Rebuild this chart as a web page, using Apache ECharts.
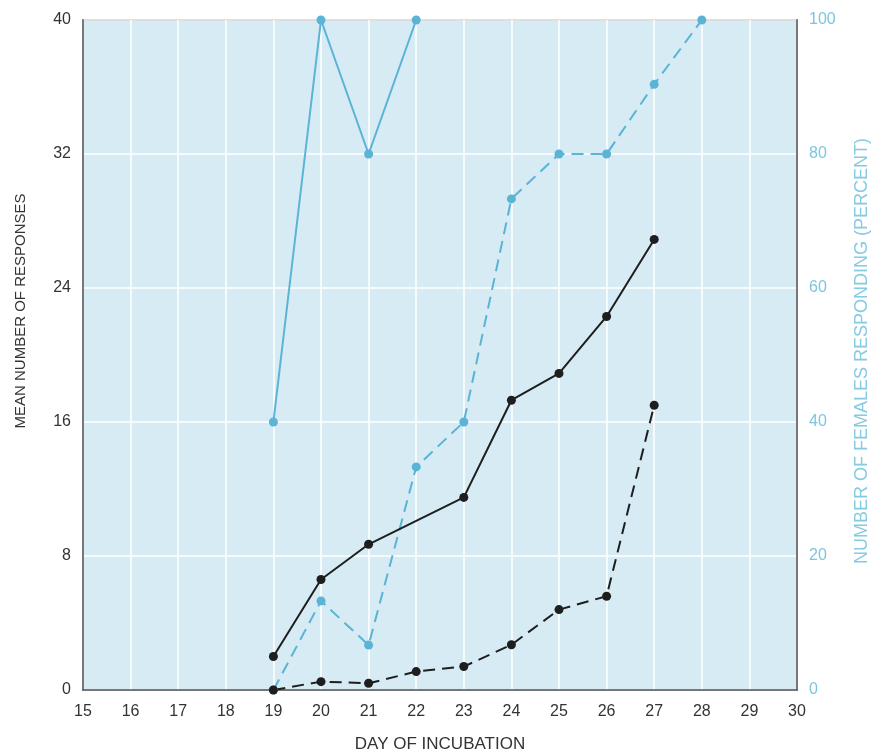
<!DOCTYPE html>
<html>
<head>
<meta charset="utf-8">
<script src="https://cdn.jsdelivr.net/npm/echarts@6/dist/echarts.min.js"></script>
<style>
  html, body { margin: 0; padding: 0; background: #fff; }
  #chart { width: 881px; height: 754px; }
</style>
</head>
<body>
<div id="chart"></div>
<script>
// days of incubation
const days = [19, 20, 21, 22, 23, 24, 25, 26, 27, 28];
// mean number of responses (left axis)
const meanSolid = [2.0, 6.6, 8.7, null, 11.5, 17.3, 18.9, 22.3, 26.9, null];
const meanDashed = [0, 0.5, 0.4, 1.1, 1.4, 2.7, 4.8, 5.6, 17.0, null];
// percent of females responding (right axis)
const pctSolid = [40, 100, 80, 100, null, null, null, null, null, null];
const pctDashed = [0, 13.3, 6.7, 33.3, 40, 73.3, 80, 80, 90.4, 100];

const black = '#1e1e1e';
const blue = '#5bb3d5';
const font = 'Liberation Sans, Arial, sans-serif';

function pairs(vals) {
  let out = [];
  for (let i = 0; i < days.length; i++) {
    if (vals[i] !== null) out.push([days[i], vals[i]]);
  }
  return out;
}

var myChart = echarts.init(document.getElementById('chart'));
myChart.setOption({
  animation: false,
  grid: {
    left: 83, right: 84, top: 20, bottom: 64,
    outerBoundsMode: 'none',
    containLabel: false,
    show: true,
    backgroundColor: '#d6ebf4',
    borderColor: '#555',
    borderWidth: 1.5
  },
  xAxis: {
    type: 'value',
    min: 15, max: 30, interval: 1,
    name: 'DAY OF INCUBATION',
    nameLocation: 'middle',
    nameGap: 46,
    nameTextStyle: { color: '#333', fontSize: 17, fontFamily: font },
    axisLine: { show: true, lineStyle: { color: '#555', width: 1.5 } },
    axisTick: { show: false },
    axisLabel: { color: '#333', fontSize: 16, fontFamily: font, margin: 14 },
    splitLine: { show: true, lineStyle: { color: '#ffffff', width: 1.5 } }
  },
  yAxis: [
    {
      type: 'value',
      min: 0, max: 40, interval: 8,
      name: 'MEAN NUMBER OF RESPONSES',
      nameLocation: 'middle',
      nameRotate: 90,
      nameGap: 55,
      nameTextStyle: { color: '#333', fontSize: 15, fontFamily: font, padding: [0, 0, 0, 88] },
      axisLine: { show: true, lineStyle: { color: '#555', width: 1.5 } },
      axisTick: { show: false },
      axisLabel: { color: '#333', fontSize: 16, fontFamily: font, margin: 12 },
      splitLine: { show: true, lineStyle: { color: '#ffffff', width: 1.5 } }
    },
    {
      type: 'value',
      min: 0, max: 100, interval: 20,
      position: 'right',
      name: 'NUMBER OF FEMALES RESPONDING (PERCENT)',
      nameLocation: 'middle',
      nameRotate: 90,
      nameGap: 56,
      nameTextStyle: { color: '#86cbe2', fontSize: 18, fontFamily: font, padding: [0, 0, 0, 8] },
      axisLine: { show: true, lineStyle: { color: '#555', width: 1.5 } },
      axisTick: { show: false },
      axisLabel: { color: '#7cc6de', fontSize: 16, fontFamily: font, margin: 12 },
      splitLine: { show: false }
    }
  ],
  series: [
    {
      type: 'line',
      yAxisIndex: 1,
      data: pairs(pctSolid),
      symbol: 'circle', symbolSize: 9,
      itemStyle: { color: blue },
      lineStyle: { color: blue, width: 2 }
    },
    {
      type: 'line',
      yAxisIndex: 1,
      data: pairs(pctDashed),
      symbol: 'circle', symbolSize: 9,
      itemStyle: { color: blue },
      lineStyle: { color: blue, width: 2, type: [12, 7] }
    },
    {
      type: 'line',
      yAxisIndex: 0,
      data: pairs(meanSolid),
      symbol: 'circle', symbolSize: 9,
      itemStyle: { color: black },
      lineStyle: { color: black, width: 2 }
    },
    {
      type: 'line',
      yAxisIndex: 0,
      data: pairs(meanDashed),
      symbol: 'circle', symbolSize: 9,
      itemStyle: { color: black },
      lineStyle: { color: black, width: 2, type: [12, 7] }
    }
  ]
});
</script>
</body>
</html>
